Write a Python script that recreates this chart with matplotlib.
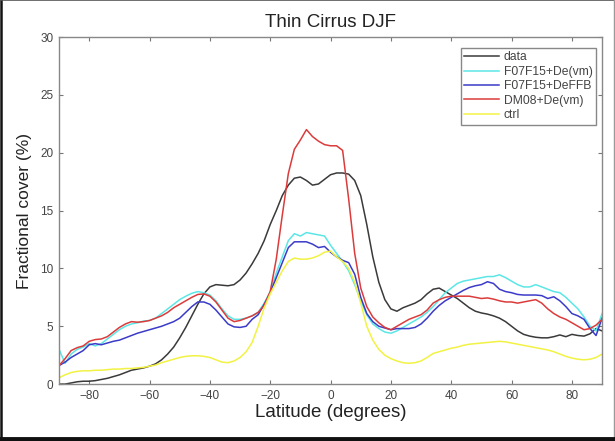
import numpy as np
import matplotlib
matplotlib.use("Agg")
import matplotlib.pyplot as plt
from matplotlib.lines import Line2D

plt.rcParams['font.family'] = ['Liberation Sans', 'DejaVu Sans']

# latitude grid (degrees), every 2 degrees
lat = np.arange(-90, 92, 2)

data = [0.0, 0.0, 0.1, 0.2, 0.25, 0.25, 0.3, 0.4, 0.5, 0.65,
        0.8, 1.0, 1.2, 1.3, 1.4, 1.55, 1.75, 2.1, 2.6, 3.2,
        4.0, 4.9, 5.9, 6.9, 7.8, 8.4, 8.6, 8.55, 8.5, 8.6,
        9.0, 9.6, 10.4, 11.3, 12.4, 13.8, 15.0, 16.3, 17.2, 17.8,
        17.9, 17.6, 17.2, 17.3, 17.7, 18.1, 18.25, 18.25, 18.15, 17.6,
        16.3, 13.8, 11.0, 8.8, 7.3, 6.5, 6.3, 6.6, 6.8, 7.0,
        7.3, 7.8, 8.2, 8.3, 8.0, 7.7, 7.4, 7.0, 6.6, 6.3,
        6.15, 6.05, 5.9, 5.7, 5.4, 5.0, 4.6, 4.3, 4.15, 4.05,
        4.0, 4.0, 4.1, 4.25, 4.1, 4.3, 4.2, 4.15, 4.35, 4.8, 4.6]

f07_vm = [3.0, 1.8, 2.6, 3.0, 3.2, 3.5, 3.3, 3.5, 3.9, 4.3,
          4.7, 5.0, 5.2, 5.3, 5.45, 5.5, 5.7, 6.1, 6.5, 6.9,
          7.3, 7.6, 7.85, 8.0, 7.9, 7.7, 7.2, 6.5, 5.9, 5.6,
          5.6, 5.7, 5.9, 6.2, 7.0, 8.0, 9.6, 11.0, 12.4, 13.0,
          12.8, 13.1, 13.0, 12.9, 12.8, 12.0, 11.3, 10.6, 9.8, 8.6,
          7.2, 6.0, 5.2, 4.8, 4.5, 4.4, 4.6, 4.9, 5.2, 5.5,
          5.8, 6.2, 6.7, 7.3, 7.9, 8.3, 8.7, 8.9, 9.0, 9.1,
          9.2, 9.3, 9.3, 9.45, 9.2, 8.9, 8.6, 8.4, 8.4, 8.6,
          8.4, 8.2, 8.0, 7.9, 7.5, 7.0, 6.5, 5.8, 5.0, 4.6, 6.1]

f07_ffb = [1.6, 1.9, 2.3, 2.6, 2.9, 3.4, 3.5, 3.4, 3.55, 3.7,
           3.8, 4.0, 4.2, 4.4, 4.55, 4.7, 4.85, 5.0, 5.2, 5.4,
           5.7, 6.2, 6.7, 7.1, 7.1, 6.9, 6.4, 5.8, 5.2, 4.95,
           4.9, 5.0, 5.6, 6.0, 6.9, 7.9, 9.2, 10.5, 11.8, 12.3,
           12.3, 12.3, 12.1, 11.8, 11.9, 11.4, 11.0, 10.7, 10.5, 9.5,
           7.5, 6.1, 5.4, 5.0, 4.85, 4.7, 4.8, 4.8, 4.8, 4.9,
           5.2, 5.7, 6.3, 6.8, 7.2, 7.5, 7.8, 8.1, 8.35, 8.5,
           8.6, 8.85, 8.7, 8.2, 8.0, 7.9, 7.75, 7.7, 7.7, 7.7,
           7.65, 7.4, 7.55, 7.2, 6.7, 6.1, 5.9, 5.6, 4.8, 4.2, 5.7]

dm08_vm = [1.6, 2.2, 2.9, 3.15, 3.3, 3.7, 3.85, 3.9, 4.1, 4.5,
           4.9, 5.2, 5.4, 5.35, 5.4, 5.5, 5.7, 5.9, 6.2, 6.6,
           6.9, 7.2, 7.5, 7.75, 7.8, 7.6, 7.1, 6.4, 5.7, 5.4,
           5.5, 5.7, 5.9, 6.2, 6.8, 8.0, 10.8, 14.6, 18.2, 20.3,
           21.1, 22.0, 21.4, 21.0, 20.7, 20.6, 20.6, 20.2, 16.0, 11.3,
           8.3, 6.7, 5.8, 5.3, 4.9, 4.7, 5.0, 5.3, 5.6, 5.8,
           6.0, 6.4, 7.0, 7.3, 7.5, 7.6, 7.6, 7.6, 7.6, 7.5,
           7.4, 7.45, 7.35, 7.2, 7.1, 7.1, 7.0, 7.1, 7.2, 7.3,
           7.0, 6.5, 6.1, 5.8, 5.6, 5.3, 5.0, 4.7, 4.8, 5.1, 5.6]

ctrl = [0.55, 0.8, 1.0, 1.1, 1.15, 1.15, 1.2, 1.2, 1.25, 1.3,
        1.3, 1.35, 1.35, 1.4, 1.45, 1.55, 1.65, 1.85, 2.0, 2.15,
        2.3, 2.4, 2.45, 2.45, 2.4, 2.3, 2.1, 1.9, 1.85, 2.0,
        2.3, 2.8, 3.6, 5.0, 6.6, 7.8, 8.8, 9.8, 10.6, 10.9,
        10.8, 10.8, 10.9, 11.1, 11.4, 11.5, 11.0, 10.6, 10.0, 8.8,
        7.0, 5.0, 3.8, 3.0, 2.5, 2.2, 2.0, 1.85, 1.8, 1.85,
        2.0, 2.3, 2.65, 2.8, 2.95, 3.1, 3.2, 3.35, 3.45, 3.5,
        3.55, 3.6, 3.65, 3.7, 3.65, 3.55, 3.45, 3.35, 3.25, 3.15,
        3.05, 2.95, 2.8, 2.6, 2.4, 2.25, 2.15, 2.1, 2.15, 2.3, 2.6]

names = ['data', 'F07F15+De(vm)', 'F07F15+DeFFB', 'DM08+De(vm)', 'ctrl']
colors = ['#3a3a3a', '#5ce6e6', '#3b3bc8', '#dc3b3b', '#f2f244']

fig = plt.figure(figsize=(6.15, 4.41), dpi=100)
ax = fig.add_axes([0.096, 0.129, 0.883, 0.787])

for y, name, c in zip([data, f07_vm, f07_ffb, dm08_vm, ctrl], names, colors):
    ax.plot(lat, y, color=c, lw=1.1, label=name)

ax.set_xlim(-90, 90)
ax.set_ylim(0, 30)
ax.set_xticks([-80, -60, -40, -20, 0, 20, 40, 60, 80])
ax.set_yticks([0, 5, 10, 15, 20, 25, 30])
ax.tick_params(direction='in', length=3, width=0.8, color='#777777',
               labelsize=8.5, labelcolor='#444444', top=True, right=True, pad=4)
for s in ax.spines.values():
    s.set_color('#888888')
    s.set_linewidth(1.0)

ax.set_title('Thin Cirrus DJF', fontsize=13.5, pad=7, color='#222222')
ax.set_xlabel('Latitude (degrees)', fontsize=13.5, labelpad=2, color='#222222')
ax.set_ylabel('Fractional cover (%)', fontsize=12.5, labelpad=6, color='#222222')

leg = ax.legend(loc='upper right', bbox_to_anchor=(0.989, 0.969), borderaxespad=0,
                fontsize=8.7, handlelength=2.85, handletextpad=0.4, labelspacing=0.2,
                fancybox=False, framealpha=1, edgecolor='#888888', borderpad=0.3)
leg.get_frame().set_linewidth(1.0)
for t in leg.get_texts():
    t.set_color('#444444')

# frame around the whole picture
fig.add_artist(Line2D([0.002, 0.002], [0, 1], transform=fig.transFigure, color='#111111', lw=1.8))
fig.add_artist(Line2D([0, 1], [0.999, 0.999], transform=fig.transFigure, color='#555555', lw=1.2))
fig.add_artist(Line2D([0.998, 0.998], [0, 1], transform=fig.transFigure, color='#999999', lw=1.0))
fig.add_artist(Line2D([0, 1], [0.005, 0.005], transform=fig.transFigure, color='#111111', lw=3.5))

fig.savefig('out.png', dpi=100)
